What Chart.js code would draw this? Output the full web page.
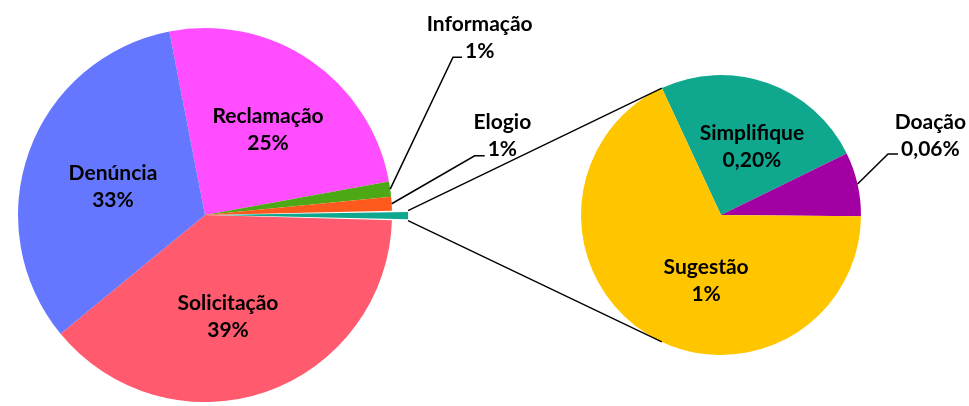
<!DOCTYPE html>
<html><head><meta charset="utf-8">
<script src="https://cdn.jsdelivr.net/npm/chart.js@4.4.1/dist/chart.umd.min.js"></script>
<style>
html,body{margin:0;padding:0;background:#fff;overflow:hidden}
#wrap{position:relative;width:969px;height:406px}
.box{position:absolute;left:0;top:0;width:969px;height:406px}
</style></head><body>
<div id="wrap">
  <div class="box"><canvas id="c1"></canvas></div>
  <div class="box"><canvas id="c2"></canvas></div>
</div>
<script>
// ---- data (percent of total) ----
const mainCategories = ['Reclamação', 'Informação', 'Elogio', 'Solicitação', 'Denúncia'];
const mainValues     = [25.2, 1.3, 1.2, 38.6, 32.9];
const subCategories  = ['Simplifique', 'Doação', 'Sugestão'];
const subValues      = [0.20, 0.06, 0.55];
const otherLabel     = 'Outros';

const mainColors = ['#FF4DFF', '#4CA814', '#FF5A1E', '#FF5A6E', '#6677FF'];
const otherColor = '#0FA88F';
const subColors  = ['#0FA88F', '#A300A3', '#FFC600'];

// first pie: insert aggregated slice after 'Elogio'
const otherValue = subValues.reduce((a, b) => a + b, 0);
const pie1Labels = mainCategories.slice(0, 3).concat([otherLabel], mainCategories.slice(3));
const pie1Values = mainValues.slice(0, 3).concat([otherValue], mainValues.slice(3));
const pie1Colors = mainColors.slice(0, 3).concat([otherColor], mainColors.slice(3));
const otherIndex = 3;

const FONT = 'Lato, "Open Sans", sans-serif';
const FSIZE = 21;
const LINE = 27;

function fmt(v) {
  return v >= 0.5 ? Math.round(v) + '%' : v.toFixed(2).replace('.', ',') + '%';
}

const labelPlugin = {
  id: 'sliceLabels',
  afterDatasetsDraw(chart, args, opts) {
    const ctx = chart.ctx;
    const meta = chart.getDatasetMeta(0);
    const ds = chart.data.datasets[0];
    ctx.save();
    ctx.font = 'bold ' + FSIZE + 'px ' + FONT;
    ctx.fillStyle = '#000';
    ctx.strokeStyle = '#000';
    ctx.lineWidth = 1.5;
    ctx.textBaseline = 'alphabetic';
    meta.data.forEach((arc, i) => {
      const p = opts.place[i];
      if (!p) return;
      const name = chart.data.labels[i];
      const txt = fmt(ds.data[i]);
      const mid = (arc.startAngle + arc.endAngle) / 2;
      if (p.inside) {
        const a = mid + p.da * Math.PI / 180;
        const r = arc.outerRadius * p.r;
        const x = arc.x + r * Math.cos(a), y = arc.y + r * Math.sin(a);
        ctx.textAlign = 'center';
        ctx.fillText(name, x, y - LINE / 2 + 7);
        ctx.fillText(txt, x, y + LINE / 2 + 7);
      } else {
        const ex = arc.x + arc.outerRadius * Math.cos(mid);
        const ey = arc.y + arc.outerRadius * Math.sin(mid);
        const bx = ex + p.dx, by = ey + p.dy, hx = bx + p.h;
        ctx.beginPath();
        ctx.moveTo(ex, ey); ctx.lineTo(bx, by); ctx.lineTo(hx, by);
        ctx.stroke();
        const w = ctx.measureText(txt).width;
        const cx = hx + 3 + w / 2;
        ctx.textAlign = 'center';
        ctx.fillText(txt, cx, by + p.b);
        ctx.fillText(name, cx, by + p.b - LINE);
      }
    });
    ctx.restore();
  }
};

const baseOpts = {
  responsive: true,
  maintainAspectRatio: false,
  animation: false,
  events: [],
  plugins: { legend: { display: false }, tooltip: { enabled: false } }
};

const chart1 = new Chart(document.getElementById('c1'), {
  type: 'pie',
  data: {
    labels: pie1Labels,
    datasets: [{
      data: pie1Values,
      backgroundColor: pie1Colors,
      borderWidth: 0,
      hoverOffset: 0,
      offset: pie1Values.map((v, i) => i === otherIndex ? 33 : 0)
    }]
  },
  options: Object.assign({}, baseOpts, {
    rotation: -11,
    radius: 187,
    layout: { padding: { left: 0, right: 559, top: 24, bottom: 0 } },
    plugins: Object.assign({}, baseOpts.plugins, {
      sliceLabels: {
        place: [
          { inside: true, r: 0.566, da: 2.2 },
          { inside: false, dx: 62.8, dy: -132, h: 9, b: 0.5 },
          { inside: false, dx: 83, dy: -48, h: 10, b: 0.5 },
          null,
          { inside: true, r: 0.559, da: 6.2 },
          { inside: true, r: 0.516, da: -2.3 }
        ]
      }
    })
  }),
  plugins: [labelPlugin]
});

const connectorPlugin = {
  id: 'connectors',
  afterDraw(chart) {
    const m1 = chart1.getDatasetMeta(0).data[otherIndex];
    const m2 = chart.getDatasetMeta(0).data[0];
    if (!m1 || !m2) return;
    const off = (m1.options.offset || 0) / 4;
    const circ = m1.endAngle - m1.startAngle;
    const fix = 1 - Math.sin(Math.min(Math.PI, circ));
    const R1 = m1.outerRadius + off * fix;
    const mid = (m1.startAngle + m1.endAngle) / 2;
    const ox = m1.x + off * Math.cos(mid), oy = m1.y + off * Math.sin(mid);
    const a1 = [ox + R1 * Math.cos(m1.startAngle), oy + R1 * Math.sin(m1.startAngle)];
    const a2 = [ox + R1 * Math.cos(m1.endAngle), oy + R1 * Math.sin(m1.endAngle)];
    const s = m2.startAngle;
    const R2 = m2.outerRadius;
    const b1 = [m2.x + R2 * Math.cos(s), m2.y + R2 * Math.sin(s)];
    const b2 = [m2.x + R2 * Math.cos(-s), m2.y + R2 * Math.sin(-s)];
    const ctx = chart.ctx;
    ctx.save();
    ctx.strokeStyle = '#000';
    ctx.lineWidth = 1.4;
    ctx.beginPath();
    ctx.moveTo(a1[0], a1[1]); ctx.lineTo(b1[0], b1[1]);
    ctx.moveTo(a2[0], a2[1]); ctx.lineTo(b2[0], b2[1]);
    ctx.stroke();
    ctx.restore();
  }
};

const chart2 = new Chart(document.getElementById('c2'), {
  type: 'pie',
  data: {
    labels: subCategories,
    datasets: [{
      data: subValues,
      backgroundColor: subColors,
      borderWidth: 0,
      hoverOffset: 0
    }]
  },
  options: Object.assign({}, baseOpts, {
    rotation: -25,
    radius: 140,
    layout: { padding: { left: 473, right: 0, top: 24, bottom: 0 } },
    plugins: Object.assign({}, baseOpts.plugins, {
      sliceLabels: {
        place: [
          { inside: true, r: 0.534, da: 5 },
          { inside: false, dx: 30.5, dy: -30, h: 10, b: 2 },
          { inside: true, r: 0.48, da: -20 }
        ]
      }
    })
  }),
  plugins: [labelPlugin, connectorPlugin]
});
</script>
</body></html>
